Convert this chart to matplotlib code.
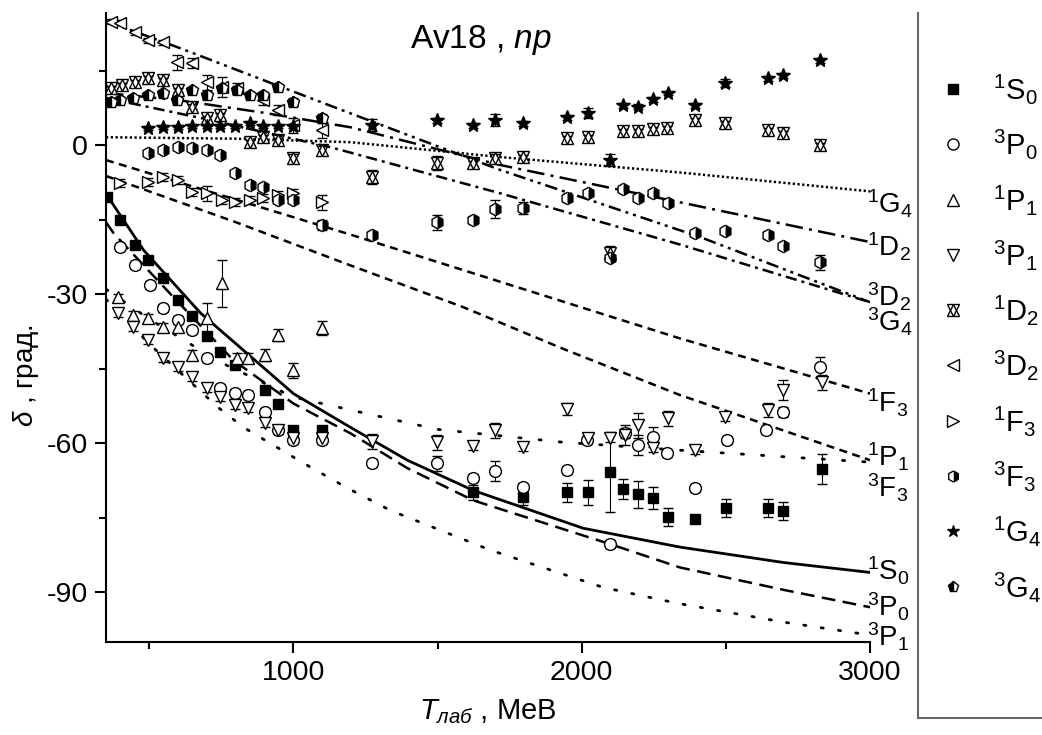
import matplotlib
matplotlib.use("Agg")
import matplotlib.pyplot as plt
from matplotlib.lines import Line2D

plt.rcParams["font.family"] = ["Liberation Sans", "DejaVu Sans"]
plt.rcParams["mathtext.fontset"] = "custom"
plt.rcParams["mathtext.rm"] = "Liberation Sans"
plt.rcParams["mathtext.it"] = "Liberation Sans:italic"
plt.rcParams["mathtext.bf"] = "Liberation Sans:bold"
plt.rcParams["axes.unicode_minus"] = False

# ---- phase shift data (points) ----
s1s0_x = [355, 400, 452, 497, 549, 601, 650, 702, 747, 799, 903, 948, 1000, 1100,
          1624, 1797, 1950, 2023, 2099, 2144, 2196, 2248, 2300, 2393, 2501, 2646, 2699, 2834]
s1s0_y = [-10.5, -15.1, -20.1, -23.2, -26.8, -31.2, -34.4, -38.4, -41.7, -44.3, -49.3, -52, -57.4, -57.4,
          -69.9, -70.9, -69.9, -69.9, -65.8, -69.2, -70.3, -71, -74.9, -75.3, -73.1, -73.1, -73.7, -65.2]
s1s0_e = [0.4, 0.4, 0.4, 0.4, 0.4, 0.4, 0.4, 0.4, 0.4, 0.4, 0.5, 0.5, 0.8, 0.8,
          1.5, 1.5, 2, 2.5, 8, 2, 2.8, 2.2, 1.8, 0.8, 1.8, 1.8, 1.8, 3]

p3p0_x = [400, 452, 504, 549, 601, 650, 702, 747, 799, 844, 903, 948, 1000, 1100, 1274, 1499,
          1624, 1700, 1797, 1950, 2019, 2099, 2151, 2196, 2248, 2296, 2393, 2504, 2640, 2699, 2827]
p3p0_y = [-20.5, -24.2, -28.2, -32.8, -35.2, -37.2, -42.9, -48.9, -49.9, -50.3, -53.7, -57.4, -59.4, -59.4, -64, -64,
          -67, -65.5, -68.8, -65.4, -59.4, -80.3, -58, -60.4, -58.8, -62, -69, -59.4, -57.4, -53.7, -44.7]
p3p0_e = [0.8, 0.8, 0.8, 0.8, 0.8, 0.8, 0.8, 0.8, 0.8, 0.8, 0.8, 0.8, 0.8, 0.8, 0.8, 1.5,
          0.8, 2, 0.8, 0.8, 0.8, 0.8, 1, 2, 2, 0.8, 0.8, 0.8, 0.8, 1, 2]

p1p1_x = [393, 445, 497, 549, 601, 650, 702, 754, 806, 844, 903, 948, 1000, 1100]
p1p1_y = [-30.6, -34.2, -34.8, -36.6, -36.6, -42.3, -34.8, -27.8, -42.9, -42.9, -42.3, -38.2, -45.3, -36.8]
p1p1_e = [0.6, 0.8, 0.8, 0.8, 1, 1, 3, 4.7, 1, 1, 1.2, 1.2, 1.5, 1.5]

p3p1_x = [393, 445, 497, 549, 601, 650, 702, 747, 799, 844, 903, 948, 1000, 1100, 1274, 1499,
          1624, 1700, 1797, 1950, 2023, 2099, 2151, 2196, 2248, 2300, 2393, 2497, 2646, 2699, 2834]
p3p1_y = [-33.8, -36.6, -39.3, -42.9, -44.7, -46.7, -48.9, -50.7, -52.3, -52.9, -56, -57.4, -59, -59, -59.6, -59.8,
          -60.6, -57.4, -60.8, -53.1, -59, -59, -58.4, -56.4, -61, -55, -61.4, -54.8, -53.3, -49.3, -47.7]
p3p1_e = [0.8, 0.8, 0.8, 0.8, 0.8, 0.8, 0.8, 0.8, 0.8, 0.8, 0.8, 0.8, 0.8, 0.8, 1.5, 1.5,
          0.8, 1.5, 0.8, 1.2, 0.8, 0.8, 2, 2.5, 0.8, 1.5, 0.8, 0.8, 1.5, 2, 1.5]

d1d2_x = [366, 407, 452, 497, 549, 601, 650, 702, 747, 851, 896, 948, 1000, 1100, 1274, 1499,
          1624, 1700, 1797, 1950, 2023, 2099, 2144, 2196, 2248, 2296, 2393, 2497, 2646, 2699, 2827]
d1d2_y = [11.5, 12.1, 12.7, 13.5, 13.1, 11.1, 7.7, 5.4, 6.0, 0.6, 1.6, 1.0, -2.6, -1.0, -6.4, -3.6,
          -3.6, -2.6, -2.4, 1.4, 1.6, -21.7, 2.8, 2.8, 3.2, 3.4, 5.0, 4.4, 3.0, 2.4, 0]
d1d2_e = [0.5, 0.5, 0.5, 0.5, 0.5, 0.5, 0.5, 0.5, 0.5, 0.5, 0.5, 0.5, 0.8, 0.8, 1.5, 1.5,
          0.5, 0.8, 0.5, 0.5, 0.5, 1.5, 0.5, 0.5, 0.5, 0.5, 0.5, 0.5, 0.5, 0.5, 0.5]

d3d2_x = [366, 400, 452, 497, 549, 598, 650, 702, 754, 806, 896, 948, 1000, 1100]
d3d2_y = [24.8, 24.6, 22.7, 21.1, 20.7, 16.7, 16.5, 12.7, 11.7, 11.5, 9.1, 7.0, 4.0, 3.0]
d3d2_e = [0.5, 0.5, 0.5, 0.5, 0.5, 1.5, 1.0, 1.5, 2, 1, 1, 1, 1.5, 1.5]

f1f3_x = [400, 497, 549, 601, 650, 702, 754, 799, 851, 896, 948, 1000, 1100]
f1f3_y = [-7.6, -7.4, -6.4, -7.0, -9.5, -9.7, -11.1, -11.5, -11.1, -10.7, -10.1, -9.7, -11.5]
f1f3_e = [0.8, 0.8, 0.8, 0.8, 0.8, 1.5, 0.8, 0.8, 0.8, 0.8, 0.8, 0.8, 1.5]

f3f3_x = [497, 549, 601, 650, 702, 747, 799, 851, 896, 948, 1000, 1100, 1274, 1499, 1624, 1700,
          1797, 1950, 2023, 2099, 2144, 2196, 2248, 2300, 2393, 2497, 2646, 2699, 2827]
f3f3_y = [-1.6, -1.0, -0.4, -0.6, -1.0, -2.0, -5.6, -8.1, -8.5, -11.1, -11.1, -16.1, -18.1, -15.5, -15.1, -12.9,
          -12.7, -10.6, -9.7, -22.7, -8.8, -10.7, -9.7, -11.7, -17.7, -17.3, -18.1, -20.3, -23.6]
f3f3_e = [0.5, 0.5, 0.5, 0.5, 0.5, 0.5, 0.5, 0.5, 0.5, 0.5, 0.5, 1, 0.8, 1.5, 0.8, 1.8,
          1.2, 0.8, 0.5, 0.5, 0.5, 0.5, 0.5, 0.5, 0.5, 0.5, 0.8, 0.5, 1.5]

g1g4_x = [497, 549, 601, 650, 702, 747, 799, 851, 896, 948, 1000, 1274, 1499, 1624, 1700,
          1797, 1950, 2023, 2099, 2144, 2196, 2248, 2300, 2393, 2497, 2646, 2699, 2827]
g1g4_y = [3.4, 3.6, 3.6, 3.8, 3.8, 3.8, 3.8, 4.4, 3.8, 3.8, 3.8, 4.0, 5.0, 4.0, 5.0,
          4.4, 5.6, 6.4, -3.0, 8.0, 7.7, 9.2, 10.5, 8.0, 12.5, 13.5, 14.1, 17.1]
g1g4_e = [0.4, 0.4, 0.4, 0.4, 0.4, 0.4, 0.4, 0.4, 0.4, 0.4, 0.4, 1.2, 0.5, 0.5, 1.2,
          0.5, 0.5, 1.0, 1.2, 0.5, 0.5, 0.5, 0.5, 0.5, 0.8, 0.5, 0.5, 0.5]

g3g4_x = [366, 400, 445, 497, 549, 598, 650, 702, 754, 806, 851, 896, 948, 1000, 1100]
g3g4_y = [8.7, 9.1, 9.5, 10.1, 10.5, 9.1, 11.1, 10.1, 11.5, 11.1, 10.1, 10.1, 11.7, 8.7, 5.4]
g3g4_e = [0.5, 0.5, 0.5, 0.5, 0.5, 0.5, 0.5, 0.8, 0.5, 0.8, 0.5, 0.5, 0.5, 0.8, 0.8]

# ---- Av18 model curves ----
c1s0_x = [350, 480, 678, 1000, 1198, 1395, 1624, 2005, 2341, 2700, 3000]
c1s0_y = [-9.8, -21.1, -33.8, -50.0, -56.8, -63.4, -69.5, -77.1, -80.9, -84.0, -86.0]
c3p0_x = [350, 376, 584, 792, 1000, 1198, 1395, 1624, 2099, 2341, 2700, 3000]
c3p0_y = [-15.5, -17.7, -30.6, -43.3, -52.0, -58.0, -65.0, -71.5, -80.3, -85.0, -89.5, -93.0]
c3p1_x = [350, 500, 737, 827, 931, 1035, 1187, 1336, 1683, 2074, 2331, 2700, 3000]
c3p1_y = [-31.0, -40.0, -52.7, -56.8, -60.4, -64.0, -69.0, -73.5, -81.5, -89.0, -92.2, -96.0, -98.6]
c3f3_x = [350, 500, 747, 1000, 1198, 1499, 1936, 2341, 3000]
c3f3_y = [-29.0, -35.0, -43.7, -50.7, -53.3, -57.2, -59.8, -61.4, -63.8]
c1p1_x = [350, 800, 1198, 1589, 1936, 2341, 3000]
c1p1_y = [-6.2, -15.5, -24.2, -32.6, -41.0, -50.3, -63.4]
c1f3_x = [350, 1198, 2341, 3000]
c1f3_y = [-3.0, -18.0, -38.9, -50.0]
c1g4_x = [350, 800, 1198, 1718, 2341, 3000]
c1g4_y = [1.6, 1.3, 0.6, -2.4, -5.5, -9.3]
c1d2_x = [350, 608, 900, 1198, 1718, 2341, 3000]
c1d2_y = [10.5, 9.0, 6.5, 3.6, -4.0, -11.5, -19.5]
c3d2_x = [350, 608, 900, 1198, 1718, 2411, 3000]
c3d2_y = [25.0, 19.5, 13.0, 6.4, -5.0, -18.5, -31.6]
c3g4_x = [350, 700, 1128, 1718, 2341, 3000]
c3g4_y = [9.5, 5.2, -0.4, -9.7, -20.0, -31.6]

# labels at the right end of the curves
end_labels = [r"$^{1}\mathrm{G}_{4}$", r"$^{1}\mathrm{D}_{2}$", r"$^{3}\mathrm{D}_{2}$", r"$^{3}\mathrm{G}_{4}$",
              r"$^{1}\mathrm{F}_{3}$", r"$^{1}\mathrm{P}_{1}$", r"$^{3}\mathrm{F}_{3}$", r"$^{1}\mathrm{S}_{0}$",
              r"$^{3}\mathrm{P}_{0}$", r"$^{3}\mathrm{P}_{1}$"]
end_label_y = [-11.9, -20.5, -30.6, -35.6, -51.9, -62.8, -69.0, -85.6, -93.0, -99.0]

legend_labels = [r"$^{1}\mathrm{S}_{0}$", r"$^{3}\mathrm{P}_{0}$", r"$^{1}\mathrm{P}_{1}$", r"$^{3}\mathrm{P}_{1}$",
                 r"$^{1}\mathrm{D}_{2}$", r"$^{3}\mathrm{D}_{2}$", r"$^{1}\mathrm{F}_{3}$", r"$^{3}\mathrm{F}_{3}$",
                 r"$^{1}\mathrm{G}_{4}$", r"$^{3}\mathrm{G}_{4}$"]


def main():
    fig = plt.figure(figsize=(10.42, 7.35), dpi=100)
    ax = fig.add_axes([106 / 1042, 1 - 642 / 735, 764 / 1042, 629 / 735])

    # curves
    ax.plot(c1s0_x, c1s0_y, color="black", lw=2.0, ls="-")
    ax.plot(c3p0_x, c3p0_y, color="black", lw=1.8, ls=(0, (5.5, 3)))
    ax.plot(c3p1_x, c3p1_y, color="black", lw=2.0, ls=(0, (0.8, 5.5)), dash_capstyle="round")
    ax.plot(c3f3_x, c3f3_y, color="black", lw=2.0, ls=(0, (0.8, 6.5)), dash_capstyle="round")
    ax.plot(c1p1_x, c1p1_y, color="black", lw=1.8, ls=(0, (3.2, 2.2)))
    ax.plot(c1f3_x, c1f3_y, color="black", lw=1.8, ls=(0, (3.2, 2.2)))
    ax.plot(c1g4_x, c1g4_y, color="black", lw=1.8, ls=(0, (0.9, 1.0)))
    ax.plot(c1d2_x, c1d2_y, color="black", lw=1.8, ls=(0, (7, 2.5, 1.2, 2.5)))
    ax.plot(c3d2_x, c3d2_y, color="black", lw=1.8, ls=(0, (5, 2, 1.2, 2, 1.2, 2)))
    ax.plot(c3g4_x, c3g4_y, color="black", lw=1.8, ls=(0, (4.5, 2, 1.2, 2)))

    # data points with error bars
    eb = dict(ls="none", mec="black", mew=1.0, ecolor="black", elinewidth=0.8,
              capsize=3.5, capthick=0.8, zorder=3)
    ax.errorbar(s1s0_x, s1s0_y, yerr=s1s0_e, fmt="s", ms=7.5, mfc="black", **eb)
    ax.errorbar(p3p0_x, p3p0_y, yerr=p3p0_e, fmt="o", ms=8.5, mfc="white", **eb)
    ax.errorbar(p1p1_x, p1p1_y, yerr=p1p1_e, fmt="^", ms=9, mfc="white", **eb)
    ax.errorbar(p3p1_x, p3p1_y, yerr=p3p1_e, fmt="v", ms=9, mfc="white", **eb)
    ax.errorbar(d1d2_x, d1d2_y, yerr=d1d2_e, fmt="^", ms=9, mfc="white", **eb)
    ax.plot(d1d2_x, d1d2_y, "v", ms=9, mfc="none", mec="black", mew=1.0, zorder=4)
    ax.errorbar(d3d2_x, d3d2_y, yerr=d3d2_e, fmt="<", ms=9, mfc="white", **eb)
    ax.errorbar(f1f3_x, f1f3_y, yerr=f1f3_e, fmt=">", ms=9, mfc="white", **eb)
    ax.errorbar(f3f3_x, f3f3_y, yerr=f3f3_e, fmt="h", ms=9, fillstyle="right", mfc="black",
                mfcalt="white", **eb)
    ax.errorbar(g1g4_x, g1g4_y, yerr=g1g4_e, fmt="*", ms=10, mfc="black", **eb)
    ax.errorbar(g3g4_x, g3g4_y, yerr=g3g4_e, fmt="p", ms=9, fillstyle="left", mfc="black",
                mfcalt="white", **eb)

    # labels at curve ends
    for lab, yy in zip(end_labels, end_label_y):
        ax.annotate(lab, xy=(3000, yy), xytext=(-2, 0), textcoords="offset points",
                    ha="left", va="center", fontsize=20, annotation_clip=False)

    ax.set_xlim(350, 3000)
    ax.set_ylim(-100, 26.6)
    ax.set_xticks([1000, 2000, 3000])
    ax.set_xticks([500, 1500, 2500], minor=True)
    ax.set_yticks([-90, -60, -30, 0])
    ax.set_yticks([-75, -45, -15, 15], minor=True)
    ax.spines["top"].set_visible(False)
    ax.spines["right"].set_visible(False)
    for s in ("left", "bottom"):
        ax.spines[s].set_linewidth(1.5)
    ax.tick_params(which="major", direction="out", length=8, width=1.5, labelsize=20.5, pad=5)
    ax.tick_params(which="minor", direction="out", length=5, width=1.5)

    ax.text(0.491, 0.957, r"Av18 , $\mathit{np}$", transform=ax.transAxes, ha="center",
            va="center", fontsize=24)
    ax.set_xlabel(r"$T_{\mathit{лаб}}$ , MeB", fontsize=21)
    ax.xaxis.set_label_coords(0.5, -0.088)
    ax.set_ylabel(r"$\delta$ , град.", fontsize=20)
    ax.yaxis.set_label_coords(-0.085, 0.424)

    # legend
    handles = [
        Line2D([], [], ls="none", marker="s", ms=7, mfc="black", mec="black"),
        Line2D([], [], ls="none", marker="o", ms=8, mfc="white", mec="black"),
        Line2D([], [], ls="none", marker="^", ms=8, mfc="white", mec="black"),
        Line2D([], [], ls="none", marker="v", ms=8, mfc="white", mec="black"),
        (Line2D([], [], ls="none", marker="^", ms=8, mfc="white", mec="black"),
         Line2D([], [], ls="none", marker="v", ms=8, mfc="none", mec="black")),
        Line2D([], [], ls="none", marker="<", ms=8, mfc="white", mec="black"),
        Line2D([], [], ls="none", marker=">", ms=8, mfc="white", mec="black"),
        Line2D([], [], ls="none", marker="h", ms=8, fillstyle="right", mfc="black",
               mfcalt="white", mec="black"),
        Line2D([], [], ls="none", marker="*", ms=9, mfc="black", mec="black"),
        Line2D([], [], ls="none", marker="p", ms=8, fillstyle="left", mfc="black",
               mfcalt="white", mec="black"),
    ]
    fig.legend(handles, legend_labels, loc="upper left", bbox_to_anchor=(938 / 1042, 1 - 72 / 735),
               frameon=False, fontsize=21, handlelength=1.0, handletextpad=0.9,
               labelspacing=0.73, borderpad=0, borderaxespad=0)

    # legend box edges
    fig.add_artist(Line2D([918 / 1042, 918 / 1042], [1 - 13 / 735, 1 - 718 / 735],
                          transform=fig.transFigure, color="#666666", lw=1.5))
    fig.add_artist(Line2D([918 / 1042, 1], [1 - 718 / 735, 1 - 718 / 735],
                          transform=fig.transFigure, color="#666666", lw=1.5))

    fig.savefig("out.png", dpi=100)


if __name__ == "__main__":
    main()
